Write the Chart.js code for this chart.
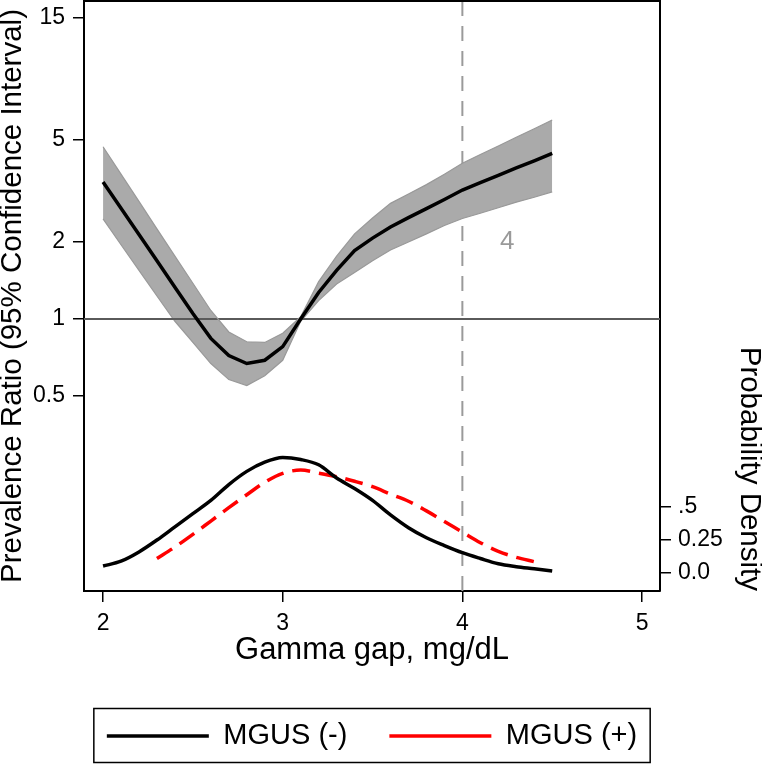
<!DOCTYPE html>
<html>
<head>
<meta charset="utf-8">
<script src="https://cdn.jsdelivr.net/npm/chart.js@4"></script>
<style>
  body { margin: 0; background: #fff; }
</style>
</head>
<body>
<canvas id="myChart" width="762" height="764"></canvas>
<script>
// gamma gap grid (mg/dL)
const gammaGap = [2.0, 2.1, 2.2, 2.3, 2.4, 2.5, 2.6, 2.7, 2.8, 2.9, 3.0, 3.1, 3.2,
                  3.3, 3.4, 3.5, 3.6, 3.7, 3.8, 3.9, 4.0, 4.1, 4.2, 4.3, 4.4, 4.5];

// prevalence ratio and 95% CI (left, log scale)
const prEstimate = [3.43, 2.71, 2.14, 1.69, 1.33, 1.05, 0.84, 0.72, 0.67, 0.69, 0.78, 1.0, 1.27,
                    1.55, 1.85, 2.07, 2.29, 2.49, 2.70, 2.93, 3.19, 3.41, 3.64, 3.89, 4.15, 4.44];
const prUpper = [4.71, 3.68, 2.88, 2.25, 1.76, 1.38, 1.08, 0.89, 0.815, 0.81, 0.88, 1.02, 1.40,
                 1.76, 2.15, 2.48, 2.83, 3.08, 3.35, 3.68, 4.06, 4.39, 4.74, 5.13, 5.54, 5.99];
const prLower = [2.46, 1.95, 1.55, 1.23, 0.98, 0.81, 0.67, 0.58, 0.55, 0.60, 0.69, 0.98, 1.18,
                 1.37, 1.52, 1.69, 1.86, 2.0, 2.15, 2.32, 2.47, 2.59, 2.72, 2.86, 2.99, 3.14];

// probability density (right scale)
const densityNeg = [0.053, 0.09, 0.16, 0.25, 0.35, 0.45, 0.55, 0.67, 0.77, 0.84, 0.875, 0.86, 0.82,
                    0.72, 0.64, 0.55, 0.44, 0.343, 0.267, 0.208, 0.154, 0.11, 0.07, 0.048, 0.032, 0.015];
const densityPos = [null, null, null, 0.11, 0.197, 0.293, 0.394, 0.495, 0.593, 0.687, 0.755, 0.78, 0.757,
                    0.73, 0.695, 0.654, 0.598, 0.544, 0.471, 0.391, 0.31, 0.23, 0.164, 0.119, 0.086, null];

const legendNames = ['MGUS (-)', 'MGUS (+)'];

const xTicks = [2, 3, 4, 5];
const xTickLabels = ['2', '3', '4', '5'];
const prTicks = [0.5, 1, 2, 5, 15];
const prTickLabels = ['0.5', '1', '2', '5', '15'];
const densTicks = [0, 0.25, 0.5];
const densTickLabels = ['0.0', '0.25', '.5'];

const refRatio = 1;      // horizontal line
const refGap = 4;        // vertical dashed line
const refGapLabel = '4';
const refGapLabelAt = [4.25, 2];

const toPoints = ys => gammaGap.map((g, i) => ({ x: g, y: ys[i] }));

Chart.defaults.font.family = '"Liberation Sans", Arial, sans-serif';
Chart.defaults.color = '#000';

// no extra room for tick labels at the ends of the axes
const noPad = s => { s.paddingTop = 0; s.paddingBottom = 0; s.paddingLeft = 0; s.paddingRight = 0; };

const extras = {
  id: 'extras',
  beforeDatasetsDraw(chart) {
    const { ctx, chartArea, scales } = chart;
    const px = scales.x.getPixelForValue(refGap);
    ctx.save();
    ctx.strokeStyle = '#9a9a9a';
    ctx.lineWidth = 2;
    ctx.setLineDash([15, 10]);
    ctx.beginPath();
    ctx.moveTo(px, chartArea.top);
    ctx.lineTo(px, chartArea.bottom);
    ctx.stroke();
    ctx.restore();
  },
  afterDatasetDraw(chart, args) {
    if (args.index !== 2) return;
    const { ctx, chartArea, scales } = chart;
    const py = scales.y.getPixelForValue(refRatio);
    ctx.save();
    ctx.strokeStyle = '#5a5a5a';
    ctx.lineWidth = 2;
    ctx.beginPath();
    ctx.moveTo(chartArea.left, py);
    ctx.lineTo(chartArea.right, py);
    ctx.stroke();
    ctx.restore();
  },
  afterDraw(chart) {
    const { ctx, chartArea, scales, legend } = chart;
    ctx.save();
    // top frame
    ctx.strokeStyle = '#000';
    ctx.lineWidth = 2;
    ctx.beginPath();
    ctx.moveTo(chartArea.left - 1, chartArea.top);
    ctx.lineTo(chartArea.right + 1, chartArea.top);
    ctx.stroke();
    // label of dashed line
    ctx.fillStyle = '#9a9a9a';
    ctx.font = '26px "Liberation Sans", Arial, sans-serif';
    ctx.textAlign = 'center';
    ctx.textBaseline = 'middle';
    ctx.fillText(refGapLabel, scales.x.getPixelForValue(refGapLabelAt[0]), scales.y.getPixelForValue(refGapLabelAt[1]));
    // legend frame
    const hb = legend.legendHitBoxes;
    if (hb && hb.length) {
      const l = hb[0].left - 13;
      const r = hb[hb.length - 1].left + hb[hb.length - 1].width + 13;
      const t = hb[0].top - 13;
      ctx.strokeStyle = '#000';
      ctx.lineWidth = 1.5;
      ctx.strokeRect(l, t, r - l, 54);
    }
    ctx.restore();
  }
};

const ctx = document.getElementById('myChart');

new Chart(ctx, {
  type: 'line',
  data: {
    datasets: [
      {
        label: 'PR',
        data: toPoints(prEstimate),
        yAxisID: 'y',
        borderColor: '#000',
        borderWidth: 3.5,
        pointRadius: 0,
        tension: 0,
        order: 1
      },
      {
        label: 'upper',
        data: toPoints(prUpper),
        yAxisID: 'y',
        borderColor: '#999',
        borderWidth: 1.2,
        backgroundColor: '#aaaaaa',
        pointRadius: 0,
        fill: false,
        order: 3
      },
      {
        label: 'lower',
        data: toPoints(prLower),
        yAxisID: 'y',
        borderColor: '#999',
        borderWidth: 1.2,
        backgroundColor: '#aaaaaa',
        pointRadius: 0,
        fill: '-1',
        order: 3
      },
      {
        label: 'MGUS (-)',
        data: toPoints(densityNeg),
        yAxisID: 'y2',
        borderColor: '#000',
        borderWidth: 3.5,
        pointRadius: 0,
        cubicInterpolationMode: 'monotone',
        order: 2
      },
      {
        label: 'MGUS (+)',
        data: toPoints(densityPos),
        yAxisID: 'y2',
        borderColor: '#ff0000',
        borderWidth: 3.5,
        borderDash: [18, 9],
        pointRadius: 0,
        cubicInterpolationMode: 'monotone',
        order: 2
      }
    ]
  },
  options: {
    responsive: false,
    animation: false,
    layout: { padding: { top: 1, right: 18, bottom: 3.5, left: 0 } },
    plugins: {
      tooltip: { enabled: false },
      legend: {
        position: 'bottom',
        labels: {
          filter: item => legendNames.includes(item.text),
          usePointStyle: true,
          pointStyle: 'line',
          pointStyleWidth: 102,
          font: { size: 29 },
          color: '#000',
          padding: 42
        }
      }
    },
    scales: {
      x: {
        type: 'linear',
        min: 1.894,
        max: 5.1,
        afterBuildTicks: s => { s.ticks = xTicks.map(v => ({ value: v })); },
        afterFit: s => { s.height = 88.5; noPad(s); },
        ticks: {
          callback: (v, i) => xTickLabels[i],
          font: { size: 23 },
          padding: 8,
          maxRotation: 0,
          autoSkip: false
        },
        grid: { drawOnChartArea: false, drawTicks: true, tickLength: 11, color: '#000', lineWidth: 1.5 },
        border: { display: true, color: '#000', width: 2 },
        title: { display: true, text: 'Gamma gap, mg/dL', font: { size: 31 }, padding: { top: 0, bottom: 10 } }
      },
      y: {
        type: 'logarithmic',
        position: 'left',
        min: 0.0866,
        max: 17.47,
        afterBuildTicks: s => { s.ticks = prTicks.map(v => ({ value: v })); },
        afterFit: s => { s.width = 84; noPad(s); },
        ticks: {
          callback: (v, i) => prTickLabels[i],
          font: { size: 23 },
          padding: 8,
          autoSkip: false
        },
        grid: { drawOnChartArea: false, drawTicks: true, tickLength: 11, color: '#000', lineWidth: 1.5 },
        border: { display: true, color: '#000', width: 2 },
        title: { display: true, text: 'Prevalence Ratio (95% Confidence Interval)', font: { size: 29.5 }, padding: { top: -5, bottom: 0 } }
      },
      y2: {
        type: 'linear',
        position: 'right',
        min: -0.136,
        max: 4.333,
        afterBuildTicks: s => { s.ticks = densTicks.map(v => ({ value: v })); },
        afterFit: s => { s.width = 84; noPad(s); },
        ticks: {
          callback: (v, i) => densTickLabels[i],
          font: { size: 23 },
          padding: 7,
          autoSkip: false
        },
        grid: { drawOnChartArea: false, drawTicks: true, tickLength: 11, color: '#000', lineWidth: 1.5 },
        border: { display: true, color: '#000', width: 2 },
        title: { display: true, text: 'Probability Density', align: 'start', font: { size: 29.5 }, padding: { top: -23, bottom: 0 } }
      }
    }
  },
  plugins: [extras]
});
</script>
</body>
</html>
